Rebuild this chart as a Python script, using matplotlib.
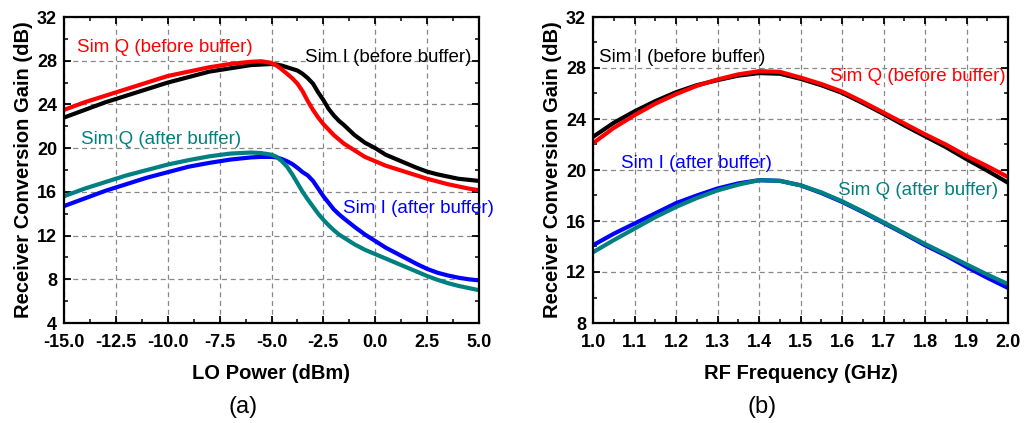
import numpy as np
import matplotlib
matplotlib.use("Agg")
import matplotlib.pyplot as plt
from matplotlib.ticker import MultipleLocator, FormatStrFormatter

plt.rcParams['font.family'] = ['Liberation Sans', 'DejaVu Sans']

# ---------------- Panel (a): gain vs LO power ----------------
lo_power = [-15, -14, -13, -12, -11, -10, -9, -8, -7, -6, -5.5, -5, -4.75, -4.5, -4.25, -4,
            -3.75, -3.5, -3.25, -3, -2.75, -2.5, -2.25, -2, -1.75, -1.5, -1, -0.5, 0, 0.5,
            1, 1.5, 2, 2.5, 3, 3.5, 4, 4.5, 5]
a_q_before = [23.5, 24.2, 24.8, 25.4, 26.0, 26.6, 27.0, 27.4, 27.7, 27.9, 27.95, 27.8, 27.55,
              27.2, 26.8, 26.4, 25.9, 25.2, 24.3, 23.5, 22.8, 22.2, 21.7, 21.2, 20.8, 20.4,
              19.8, 19.2, 18.8, 18.4, 18.1, 17.8, 17.5, 17.2, 16.95, 16.7, 16.5, 16.3, 16.15]
a_i_before = [22.8, 23.5, 24.2, 24.8, 25.4, 26.0, 26.5, 27.0, 27.3, 27.6, 27.65, 27.7, 27.65,
              27.55, 27.4, 27.25, 27.1, 26.8, 26.4, 25.9, 25.1, 24.4, 23.6, 23.0, 22.5, 22.1,
              21.2, 20.5, 20.0, 19.4, 19.0, 18.6, 18.2, 17.85, 17.6, 17.4, 17.2, 17.1, 17.0]
a_q_after = [15.6, 16.3, 16.9, 17.5, 18.0, 18.5, 18.9, 19.25, 19.5, 19.6, 19.55, 19.4, 19.2,
             18.8, 18.3, 17.6, 16.8, 16.0, 15.3, 14.65, 14.0, 13.45, 12.95, 12.5, 12.1, 11.8,
             11.2, 10.7, 10.3, 9.9, 9.5, 9.1, 8.7, 8.3, 7.95, 7.65, 7.4, 7.2, 7.0]
a_i_after = [14.7, 15.4, 16.1, 16.7, 17.3, 17.8, 18.3, 18.65, 18.95, 19.15, 19.2, 19.2, 19.15,
             19.0, 18.8, 18.55, 18.2, 17.8, 17.5, 17.0, 16.3, 15.6, 15.0, 14.4, 13.95, 13.55,
             12.8, 12.1, 11.5, 10.9, 10.4, 9.9, 9.4, 8.95, 8.6, 8.35, 8.15, 8.0, 7.9]

# ---------------- Panel (b): gain vs RF frequency ----------------
rf_freq = [1.00, 1.05, 1.10, 1.15, 1.20, 1.25, 1.30, 1.35, 1.40, 1.45, 1.50,
           1.55, 1.60, 1.65, 1.70, 1.75, 1.80, 1.85, 1.90, 1.95, 2.00]
b_i_before = [22.6, 23.7, 24.6, 25.4, 26.1, 26.65, 27.05, 27.4, 27.6, 27.55, 27.15,
              26.65, 26.05, 25.25, 24.4, 23.5, 22.65, 21.8, 20.85, 19.95, 19.0]
b_q_before = [22.1, 23.3, 24.3, 25.2, 25.95, 26.6, 27.1, 27.5, 27.75, 27.7, 27.25,
              26.75, 26.15, 25.35, 24.5, 23.65, 22.8, 22.0, 21.1, 20.3, 19.45]
b_i_after = [14.1, 15.0, 15.8, 16.6, 17.4, 18.0, 18.55, 18.95, 19.2, 19.15, 18.8,
             18.2, 17.5, 16.7, 15.85, 15.0, 14.1, 13.3, 12.4, 11.55, 10.75]
b_q_after = [13.55, 14.5, 15.4, 16.3, 17.1, 17.8, 18.4, 18.85, 19.2, 19.15, 18.8,
             18.25, 17.55, 16.75, 15.9, 15.05, 14.2, 13.4, 12.6, 11.8, 11.05]

RED = '#ff0000'
BLACK = '#000000'
BLUE = '#0000ff'
TEAL = '#008080'
LW = 3.0
ANN = 13.5

fig = plt.figure(figsize=(10.24, 4.23), dpi=100)
axa = fig.add_axes([64/1024, 100/423, 415/1024, 306/423])
axb = fig.add_axes([593/1024, 100/423, 415/1024, 306/423])

def style(ax, xmaj, xmin, ymaj, ymin, xfmt):
    ax.xaxis.set_major_locator(MultipleLocator(xmaj))
    ax.xaxis.set_minor_locator(MultipleLocator(xmin))
    ax.yaxis.set_major_locator(MultipleLocator(ymaj))
    ax.yaxis.set_minor_locator(MultipleLocator(ymin))
    ax.xaxis.set_major_formatter(FormatStrFormatter(xfmt))
    ax.tick_params(which='both', direction='in', top=True, right=True)
    ax.tick_params(which='major', length=5, width=1.3, labelsize=13)
    ax.tick_params(axis='x', which='major', pad=8)
    ax.tick_params(axis='y', which='major', pad=5)
    ax.tick_params(which='minor', length=3, width=1.1)
    for lab in ax.get_xticklabels() + ax.get_yticklabels():
        lab.set_fontweight('bold')
    for s in ax.spines.values():
        s.set_linewidth(1.6)
    ax.grid(True, which='major', linestyle=(0, (4, 3)), color='#888888', linewidth=0.9)
    ax.set_axisbelow(True)

# Panel (a)
axa.plot(lo_power, a_i_before, color=BLACK, lw=LW, solid_joinstyle='round')
axa.plot(lo_power, a_q_before, color=RED, lw=LW, solid_joinstyle='round')
axa.plot(lo_power, a_i_after, color=BLUE, lw=LW, solid_joinstyle='round')
axa.plot(lo_power, a_q_after, color=TEAL, lw=LW, solid_joinstyle='round')
axa.set_xlim(-15, 5)
axa.set_ylim(4, 32)
style(axa, 2.5, 1.25, 4, 2, '%.1f')
axa.set_xlabel('LO Power (dBm)', fontsize=14.5, fontweight='bold', labelpad=9)
axa.set_ylabel('Receiver Conversion Gain (dB)', fontsize=14.5, fontweight='bold', labelpad=3)
axa.text(-14.37, 29.2, 'Sim Q (before buffer)', color=RED, fontsize=ANN, va='center', ha='left')
axa.text(-3.4, 28.25, 'Sim I (before buffer)', color=BLACK, fontsize=ANN, va='center', ha='left')
axa.text(-14.2, 20.8, 'Sim Q (after buffer)', color=TEAL, fontsize=ANN, va='center', ha='left')
axa.text(-1.55, 14.5, 'Sim I (after buffer)', color=BLUE, fontsize=ANN, va='center', ha='left')

# Panel (b)
axb.plot(rf_freq, b_i_before, color=BLACK, lw=LW, solid_joinstyle='round')
axb.plot(rf_freq, b_q_before, color=RED, lw=LW, solid_joinstyle='round')
axb.plot(rf_freq, b_i_after, color=BLUE, lw=LW, solid_joinstyle='round')
axb.plot(rf_freq, b_q_after, color=TEAL, lw=LW, solid_joinstyle='round')
axb.set_xlim(1.0, 2.0)
axb.set_ylim(8, 32)
style(axb, 0.1, 0.05, 4, 2, '%.1f')
axb.set_xlabel('RF Frequency (GHz)', fontsize=14.5, fontweight='bold', labelpad=9)
axb.set_ylabel('Receiver Conversion Gain (dB)', fontsize=14.5, fontweight='bold', labelpad=3)
axb.text(1.015, 28.8, 'Sim I (before buffer)', color=BLACK, fontsize=ANN, va='center', ha='left')
axb.text(1.571, 27.3, 'Sim Q (before buffer)', color=RED, fontsize=ANN, va='center', ha='left')
axb.text(1.068, 20.5, 'Sim I (after buffer)', color=BLUE, fontsize=ANN, va='center', ha='left')
axb.text(1.59, 18.4, 'Sim Q (after buffer)', color=TEAL, fontsize=ANN, va='center', ha='left')

fig.text(243/1024, 1 - 407/423, '(a)', fontsize=17, ha='center', va='center')
fig.text(762/1024, 1 - 407/423, '(b)', fontsize=17, ha='center', va='center')

fig.savefig('out.png', dpi=100)
